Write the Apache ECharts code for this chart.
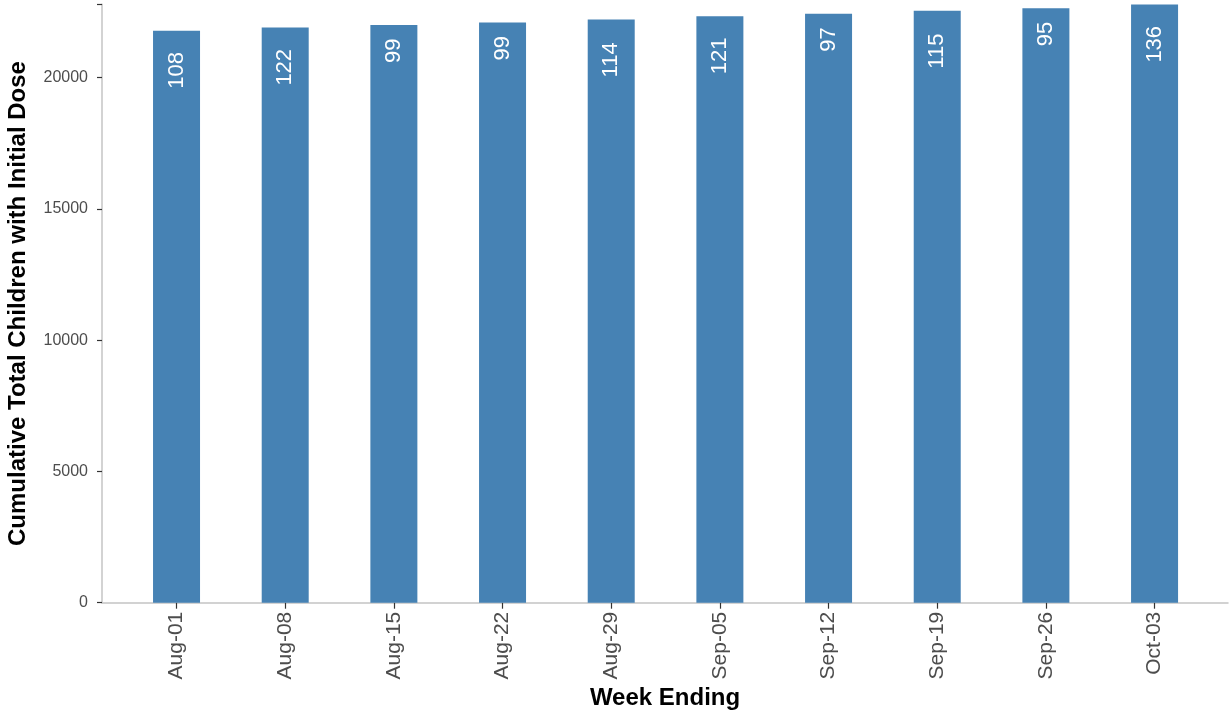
<!DOCTYPE html>
<html>
<head>
<meta charset="utf-8">
<script src="https://cdn.jsdelivr.net/npm/echarts@6/dist/echarts.min.js"></script>
<style>
html,body{margin:0;padding:0;background:#fff;}
#c{width:1229px;height:713px;}
</style>
</head>
<body>
<div id="c"></div>
<script>
var categories = ['Aug-01','Aug-08','Aug-15','Aug-22','Aug-29','Sep-05','Sep-12','Sep-19','Sep-26','Oct-03'];
var cumulativeTotal = [21780, 21902, 22001, 22100, 22214, 22335, 22432, 22547, 22642, 22778];
var weeklyNew = [108, 122, 99, 99, 114, 121, 97, 115, 95, 136];
var yMax = 22790;
var yInterval = 5000;

var FONT = 'Liberation Sans, Arial, Helvetica, sans-serif';
var chart = echarts.init(document.getElementById('c'), null, {renderer:'canvas'});

var barData = cumulativeTotal.map(function(v, i){
  var len = String(weeklyNew[i]).length;
  return { value: v, label: { position: ['50%', len * 20 - 2] } };
});

chart.setOption({
  animation: false,
  backgroundColor: '#ffffff',
  grid: [
    { left: 102, right: 1, top: 4.3, height: 598.4, containLabel: false, outerBoundsMode: 'none' },
    { left: 122.2, width: 1086.7, top: 4.3, height: 598.4, containLabel: false, outerBoundsMode: 'none' }
  ],
  xAxis: [
    {
      gridIndex: 0, type: 'value', min: 0, max: 1,
      axisLine: { show: true, lineStyle: { color: '#c4c4c4', width: 1.5 } },
      axisTick: { show: false }, axisLabel: { show: false }, splitLine: { show: false },
      name: 'Week Ending', nameLocation: 'middle', nameGap: 84,
      nameTextStyle: { fontFamily: FONT, fontWeight: 'bold', fontSize: 24, color: '#000' }
    },
    {
      gridIndex: 1, type: 'category', data: categories,
      axisLine: { show: false },
      axisTick: { show: true, alignWithLabel: true, length: 6, lineStyle: { color: '#333', width: 1.2 } },
      axisLabel: { rotate: 90, fontFamily: FONT, fontSize: 21, color: '#4d4d4d', margin: 9, interval: 0 },
      splitLine: { show: false }
    }
  ],
  yAxis: [
    {
      gridIndex: 0, type: 'value', min: 0, max: yMax, interval: yInterval,
      axisLine: { show: true, lineStyle: { color: '#c4c4c4', width: 1.5 } },
      axisTick: { show: true, length: 5, lineStyle: { color: '#333', width: 1.2 } },
      axisLabel: { fontFamily: FONT, fontSize: 16, color: '#4d4d4d', margin: 14,
        formatter: function(v){ return v % yInterval === 0 ? String(v) : ''; } },
      splitLine: { show: false },
      name: 'Cumulative Total Children with Initial Dose', nameLocation: 'middle', nameGap: 72,
      nameTextStyle: { fontFamily: FONT, fontWeight: 'bold', fontSize: 24, color: '#000' }
    },
    {
      gridIndex: 1, type: 'value', min: 0, max: yMax, show: false
    }
  ],
  series: [{
    type: 'bar', xAxisIndex: 1, yAxisIndex: 1,
    data: barData, barWidth: 47,
    itemStyle: { color: '#4682B4' },
    label: {
      show: true, rotate: 90, align: 'left', verticalAlign: 'middle',
      fontFamily: FONT, fontSize: 22, color: '#ffffff',
      formatter: function(p){ return String(weeklyNew[p.dataIndex]); }
    }
  }]
});
</script>
</body>
</html>
